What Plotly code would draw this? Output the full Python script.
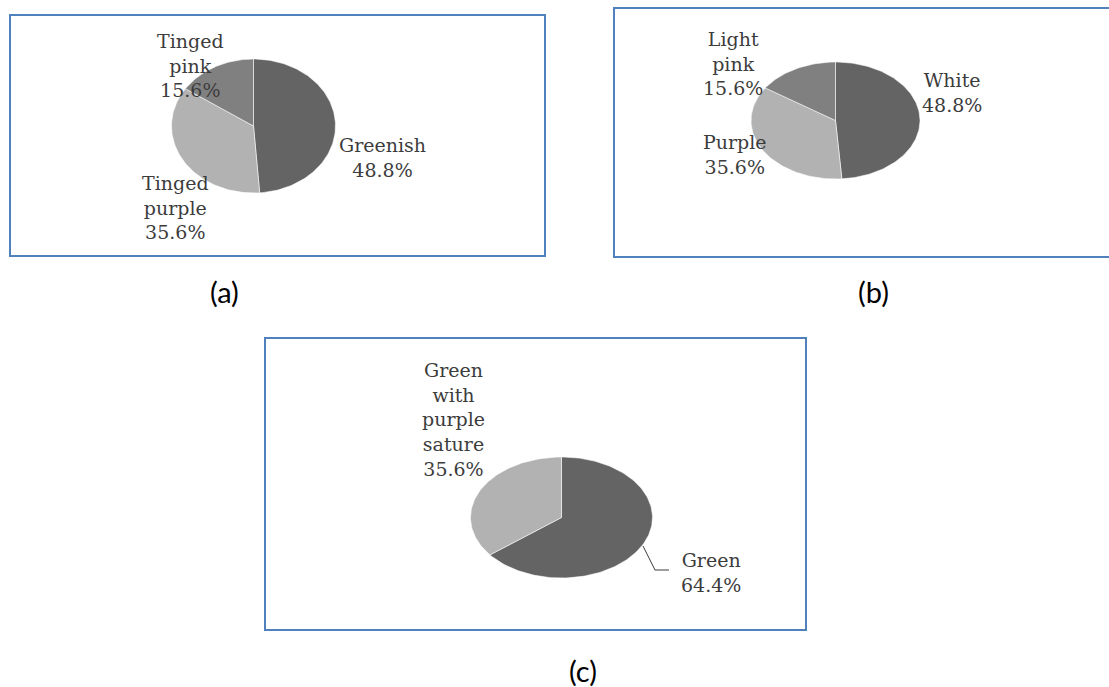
import numpy as np
import plotly.graph_objects as go

# ---- data -------------------------------------------------------------
a_labels = ["Greenish", "Tinged purple", "Tinged pink"]
a_values = [48.8, 35.6, 15.6]

b_labels = ["White", "Purple", "Light pink"]
b_values = [48.8, 35.6, 15.6]

c_labels = ["Green", "Green with purple sature"]
c_values = [64.4, 35.6]

panel_tags = ["(a)", "(b)", "(c)"]

# ---- styling ----------------------------------------------------------
W, H = 1109, 687
SLICE_COLORS = ["#646464", "#b2b2b2", "#808080"]
BORDER = "#4f81bd"
LABEL_FONT = dict(family="DejaVu Serif", size=19, color="#3c3c3c")
TAG_FONT = dict(family="Lato", size=29, color="#000000")

fig = go.Figure()


def add_pie(values, cx, cy, rx, ry):
    """Elliptical pie: slices clockwise from 12 o'clock."""
    total = float(sum(values))
    start = 0.0
    for i, v in enumerate(values):
        frac = v / total
        t = np.linspace(start, start + frac, max(4, int(frac * 240))) * 2 * np.pi
        xs = np.concatenate([[cx], cx + rx * np.sin(t), [cx]])
        ys = np.concatenate([[cy], cy - ry * np.cos(t), [cy]])
        fig.add_trace(go.Scatter(
            x=xs, y=ys, mode="lines", fill="toself",
            fillcolor=SLICE_COLORS[i],
            line=dict(color="rgba(255,255,255,0.55)", width=1),
            hoverinfo="skip", showlegend=False,
        ))
        start += frac


def label(text, value, x, y):
    words = text.split(" ")
    body = "<br>".join(words + [f"{value:.1f}%"])
    fig.add_annotation(x=x, y=y, text=body, showarrow=False,
                       xanchor="center", yanchor="middle", align="center",
                       font=LABEL_FONT)


# panel (a)
add_pie(a_values, 253.5, 126, 82, 67)
label(a_labels[0], a_values[0], 382, 157)
label(a_labels[1], a_values[1], 175, 207)
label(a_labels[2], a_values[2], 190, 65)

# panel (b)
add_pie(b_values, 835.5, 120.5, 84.5, 58.5)
label(b_labels[0], b_values[0], 952, 92)
label(b_labels[1], b_values[1], 735, 154)
label(b_labels[2], b_values[2], 733, 63)

# panel (c)
add_pie(c_values, 561.5, 517.5, 91, 60.5)
label(c_labels[0], c_values[0], 711, 572)
label(c_labels[1], c_values[1], 453, 419)

# leader line for the "Green" label
fig.add_trace(go.Scatter(x=[643, 655, 669], y=[546, 570, 570], mode="lines",
                         line=dict(color="#3c3c3c", width=1),
                         hoverinfo="skip", showlegend=False))

# frames around the three charts
for x0, y0, x1, y1 in [(10, 15, 545, 256), (614, 8, 1116, 257), (265, 338, 806, 630)]:
    fig.add_shape(type="rect", x0=x0, y0=y0, x1=x1, y1=y1,
                  line=dict(color=BORDER, width=2), fillcolor="rgba(0,0,0,0)")

# panel tags
for tag, (x, y) in zip(panel_tags, [(224.5, 291), (873, 291), (583, 670)]):
    fig.add_annotation(x=x, y=y, text=tag, showarrow=False,
                       xanchor="center", yanchor="middle", font=TAG_FONT)

fig.update_layout(
    width=W, height=H, margin=dict(l=0, r=0, t=0, b=0),
    paper_bgcolor="white", plot_bgcolor="white",
    xaxis=dict(range=[0, W], visible=False, fixedrange=True),
    yaxis=dict(range=[H, 0], visible=False, fixedrange=True),
)

fig.write_html("out.html", config={"displayModeBar": False})
